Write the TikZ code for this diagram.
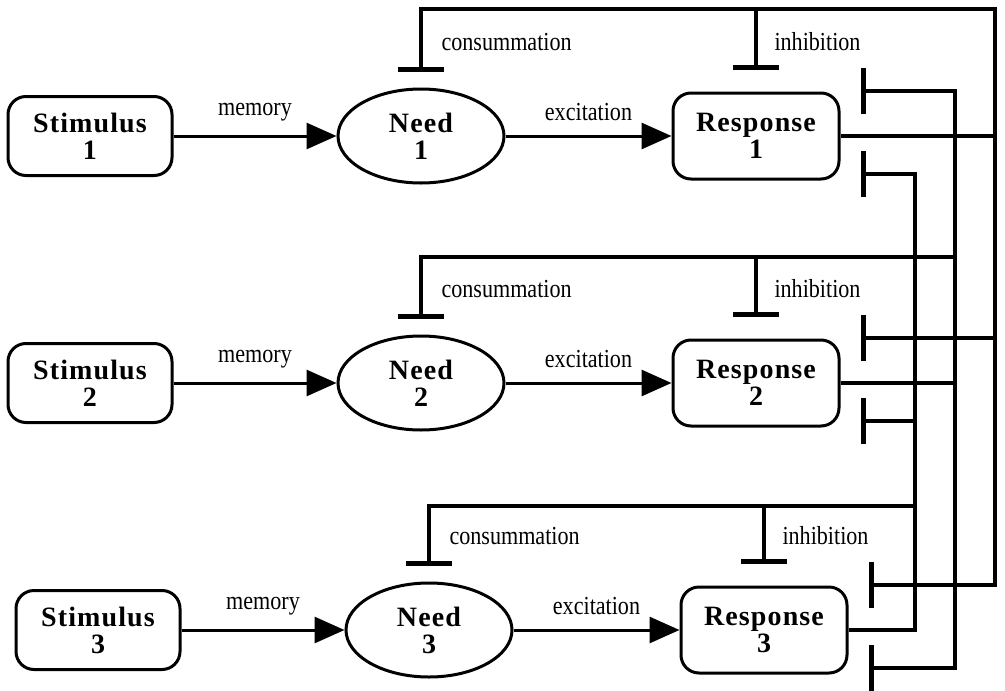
\documentclass[tikz,border=0pt]{standalone}
\usepackage{fontspec}
\setmainfont{Liberation Serif}
\newfontfamily\boxfont[LetterSpace=4]{Liberation Serif}
\newfontfamily\lblfont[FakeStretch=0.85]{Liberation Serif}
\usepackage{tikz}
\usetikzlibrary{shapes.geometric, arrows.meta, positioning, calc}
\tikzset{
  stimbox/.style={rectangle, draw, line width=3pt, rounded corners=18pt,
                  minimum width=164pt, minimum height=79pt, inner sep=0pt,
                  align=center, font=\boxfont\bfseries\fontsize{28}{27}\selectfont},
  needell/.style={ellipse, draw, line width=3pt, minimum width=166pt,
                  minimum height=94pt, inner sep=0pt, align=center,
                  font=\boxfont\bfseries\fontsize{28}{27}\selectfont},
  respbox/.style={stimbox, minimum width=166pt, minimum height=86pt},
  excite/.style={-{Triangle[length=30pt,width=26pt]}, line width=3pt},
  tee/.style={-{Bar[width=46pt,line width=5pt]}, line width=3.2pt},
  lbl/.style={font=\lblfont\fontsize{26}{28}\selectfont}
}
\begin{document}
\begin{tikzpicture}[x=1pt, y=-1pt, node distance=163pt]
  \useasboundingbox (0,0) rectangle (1005,691);

  %% -- Rows --------------------------------------------------------------
  \node[stimbox] (stim1) at (90,136) {Stimulus\\1};
  \node[needell, right=of stim1] (need1) {Need\\1};
  \node[respbox, right=166pt of need1] (resp1) {Response\\1};

  \node[stimbox] (stim2) at (90,383) {Stimulus\\2};
  \node[needell, right=of stim2] (need2) {Need\\2};
  \node[respbox, right=166pt of need2] (resp2) {Response\\2};

  \node[stimbox] (stim3) at (98,630) {Stimulus\\3};
  \node[needell, right=of stim3] (need3) {Need\\3};
  \node[respbox, right=166pt of need3] (resp3) {Response\\3};

  %% -- Excitatory arrows --------------------------------------------------
  \foreach \i in {1,2,3} {
    \draw[excite] (stim\i) -- node[lbl, midway, above=10pt] (mem\i) {memory} (need\i);
    \draw[excite] (need\i) -- node[lbl, midway, above=10pt] (exc\i) {excitation} (resp\i);
  }

  %% -- Bar end points -----------------------------------------------------
  \foreach \i in {1,2,3} {
    \coordinate (cons\i) at ($(need\i.north)+(0,-16)$);
    \coordinate (inh\i)  at ($(resp\i.north)+(0,-22)$);
    \coordinate (hb\i u) at ($(resp\i.east)+(20,-45)$);
    \coordinate (hb\i l) at ($(resp\i.east)+(20,38)$);
    \node[lbl, anchor=base west] (conslbl\i) at ($(cons\i)+(17,-21)$) {consummation};
    \node[lbl, anchor=base west] (inhlbl\i) at ($(inh\i)+(15,-19)$) {inhibition};
  }

  \coordinate (t1) at (995,9);
  \coordinate (t2) at (955,257);
  \coordinate (t3) at (915,506);

  %% -- Response 1 feedback ------------------------------------------------
  \draw[tee] (resp1.east) -| (t1) -| (cons1);
  \draw[tee] (inh1 |- t1) -- (inh1);
  \draw[tee] (t1) |- (hb3u);
  \draw[tee] (t1 |- hb2u) -- (hb2u);

  %% -- Response 2 feedback ------------------------------------------------
  \draw[tee] (resp2.east) -| (t2) -| (cons2);
  \draw[tee] (inh2 |- t2) -- (inh2);
  \draw[tee] (t2) |- (hb1u);
  \draw[tee] (t2) |- (hb3l);

  %% -- Response 3 feedback ------------------------------------------------
  \draw[tee] (resp3.east) -| (t3) -| (cons3);
  \draw[tee] (inh3 |- t3) -- (inh3);
  \draw[tee] (t3) |- (hb1l);
  \draw[tee] (t3 |- hb2l) -- (hb2l);

\end{tikzpicture}
\end{document}
